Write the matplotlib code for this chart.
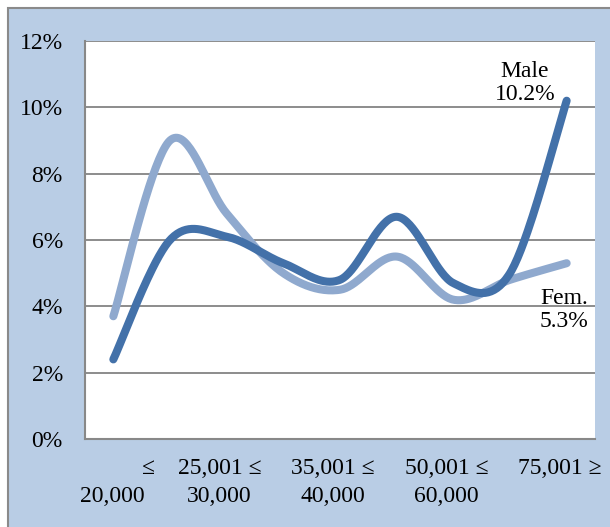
import numpy as np
import matplotlib
matplotlib.use("Agg")
import matplotlib.pyplot as plt
from matplotlib.patches import Rectangle

categories = ["≤ 20,000", "20,001 ≤ 25,000", "25,001 ≤ 30,000", "30,001 ≤ 35,000",
              "35,001 ≤ 40,000", "40,001 ≤ 50,000", "50,001 ≤ 60,000",
              "60,001 ≤ 75,000", "75,001 ≥"]
male = [2.4, 6.0, 6.1, 5.3, 4.8, 6.7, 4.7, 5.0, 10.2]
female = [3.7, 9.0, 6.8, 5.0, 4.5, 5.5, 4.2, 4.8, 5.3]
yticks = [0, 2, 4, 6, 8, 10, 12]

plt.rcParams['font.family'] = ['Liberation Serif', 'DejaVu Serif']

BG = "#B9CDE5"
MALE_C = "#4371A9"
FEM_C = "#8FA9CE"
GRID_C = "#8C8C8C"
FS = 17


def smooth(xs, ys, n=40):
    p = np.column_stack([xs, ys]).astype(float)
    out = []
    m = len(p)
    for i in range(m - 1):
        p0 = p[i - 1] if i > 0 else p[i]
        p1 = p[i]
        p2 = p[i + 1]
        p3 = p[i + 2] if i + 2 < m else p[i + 1]
        c1 = p1 + (p2 - p0) / 6.0
        c2 = p2 - (p3 - p1) / 6.0
        t = np.linspace(0, 1, n)[:, None]
        seg = ((1 - t) ** 3) * p1 + 3 * ((1 - t) ** 2) * t * c1 + 3 * (1 - t) * t ** 2 * c2 + t ** 3 * p2
        out.append(seg if i == 0 else seg[1:])
    s = np.vstack(out)
    return s[:, 0], s[:, 1]


fig = plt.figure(figsize=(6.10, 5.27), dpi=100, facecolor="white")
# chart area background with border
bgrect = Rectangle((8 / 610, -0.1), 1.2, (527 - 8) / 527 + 0.1, transform=fig.transFigure,
                   facecolor=BG, edgecolor="#8A8A8A", linewidth=1.5, zorder=-10)
fig.patches.append(bgrect)

ax = fig.add_axes([85 / 610, 1 - 439 / 527, 510 / 610, 398 / 527])
ax.set_zorder(5)
ax.set_facecolor("white")
ax.set_xlim(-0.5, len(categories) - 0.5)
ax.set_ylim(0, 12)
ax.set_yticks(yticks)
ax.set_yticklabels([f"{v}%" for v in yticks], fontsize=FS)
ax.tick_params(axis="y", length=0, pad=16)
ax.set_xticks([])
for v in yticks[1:]:
    ax.axhline(v, color=GRID_C, linewidth=1.4, zorder=1)
for s in ["top", "right"]:
    ax.spines[s].set_visible(False)
for s in ["left", "bottom"]:
    ax.spines[s].set_color("#888888")
    ax.spines[s].set_linewidth(1.5)

x = np.arange(len(categories))
fx, fy = smooth(x, female)
mx, my = smooth(x, male)
ax.plot(fx, fy, color=FEM_C, linewidth=5.8, solid_capstyle="round", zorder=3)
ax.plot(mx, my, color=MALE_C, linewidth=5.8, solid_capstyle="round", zorder=4)

# category labels (every other shown)
tr = ax.get_xaxis_transform()
y1 = (439 - 468) / 398
y2 = (439 - 496) / 398
off = -7 / 56.7
for i in range(0, len(categories), 2):
    lab = categories[i]
    if i == 0:
        ax.text(i + 0.62, y1, "≤", transform=tr, ha="center", va="center", fontsize=FS, clip_on=False)
        ax.text(i - 0.01, y2, "20,000", transform=tr, ha="center", va="center", fontsize=FS, clip_on=False)
    else:
        parts = lab.split(" ")
        first = " ".join(parts[:2])
        second = " ".join(parts[2:])
        ax.text(i + off, y1, first, transform=tr, ha="center", va="center", fontsize=FS, clip_on=False)
        if second:
            ax.text(i + off, y2, second, transform=tr, ha="center", va="center", fontsize=FS, clip_on=False)

# series labels
ax.annotate(f"Male\n{male[-1]:.1f}%", xy=(525, 527 - 83), xycoords="figure pixels",
            ha="center", va="center", fontsize=FS, linespacing=1.1)
ax.annotate(f"Fem.\n{female[-1]:.1f}%", xy=(588, 527 - 310), xycoords="figure pixels",
            ha="right", va="center", fontsize=FS, linespacing=1.1)

fig.savefig("out.png", dpi=100, facecolor="white")
